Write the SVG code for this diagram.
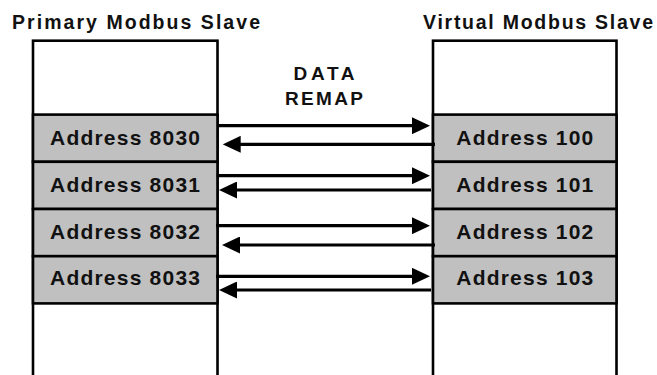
<svg xmlns="http://www.w3.org/2000/svg" width="657" height="375" viewBox="0 0 657 375">
  <style>
    .col { fill: #ffffff; stroke: #000000; stroke-width: 2.6; }
    .row { fill: #c0c0c0; stroke: #000000; stroke-width: 2.6; }
    .title { font-family: "Liberation Sans", Arial, sans-serif; font-weight: bold; font-size: 19.5px; fill: #111111; }
    .addr { font-family: "Liberation Sans", Arial, sans-serif; font-weight: bold; font-size: 21px; fill: #111111; text-anchor: middle; }
    .label { font-family: "Liberation Sans", Arial, sans-serif; font-weight: bold; font-size: 19px; fill: #111111; text-anchor: middle; }
    .link { fill: none; stroke: #000000; stroke-width: 3.2; }
  </style>
  <defs>
    <marker id="head" viewBox="0 0 18 17" refX="8" refY="8.5" markerWidth="18" markerHeight="17" markerUnits="userSpaceOnUse" orient="auto">
      <path d="M0,0 L18,8.5 L0,17 Z" fill="#000000"/>
    </marker>
  </defs>

  <rect width="657" height="375" fill="#ffffff"/>

  <!-- Primary slave register table -->
  <g id="primary-slave">
    <text class="title" x="12" y="29.3" textLength="248" lengthAdjust="spacing">Primary Modbus Slave</text>
    <rect class="col" x="33" y="40.7" width="184.5" height="345"/>
  </g>
  <g id="primary-8030">
    <rect class="row" x="33" y="114.6" width="184.5" height="47.2"/>
    <text class="addr" x="125" y="145.3" textLength="150" lengthAdjust="spacing">Address 8030</text>
  </g>
  <g id="primary-8031">
    <rect class="row" x="33" y="161.8" width="184.5" height="47.2"/>
    <text class="addr" x="125" y="192.3" textLength="150" lengthAdjust="spacing">Address 8031</text>
  </g>
  <g id="primary-8032">
    <rect class="row" x="33" y="209" width="184.5" height="47.2"/>
    <text class="addr" x="125" y="238.8" textLength="150" lengthAdjust="spacing">Address 8032</text>
  </g>
  <g id="primary-8033">
    <rect class="row" x="33" y="256.2" width="184.5" height="47.2"/>
    <text class="addr" x="125" y="285.3" textLength="150" lengthAdjust="spacing">Address 8033</text>
  </g>

  <!-- Virtual slave register table -->
  <g id="virtual-slave">
    <text class="title" x="423" y="29.3" textLength="230" lengthAdjust="spacing">Virtual Modbus Slave</text>
    <rect class="col" x="433" y="40.7" width="183.5" height="345"/>
  </g>
  <g id="virtual-100">
    <rect class="row" x="433" y="114.6" width="183.5" height="47.2"/>
    <text class="addr" x="524.8" y="145.3" textLength="137" lengthAdjust="spacing">Address 100</text>
  </g>
  <g id="virtual-101">
    <rect class="row" x="433" y="161.8" width="183.5" height="47.2"/>
    <text class="addr" x="524.8" y="192.3" textLength="137" lengthAdjust="spacing">Address 101</text>
  </g>
  <g id="virtual-102">
    <rect class="row" x="433" y="209" width="183.5" height="47.2"/>
    <text class="addr" x="524.8" y="238.8" textLength="137" lengthAdjust="spacing">Address 102</text>
  </g>
  <g id="virtual-103">
    <rect class="row" x="433" y="256.2" width="183.5" height="47.2"/>
    <text class="addr" x="524.8" y="285.3" textLength="137" lengthAdjust="spacing">Address 103</text>
  </g>

  <!-- Remap caption -->
  <g id="remap-label">
    <text class="label" x="324" y="80" textLength="61" lengthAdjust="spacing">DATA</text>
    <text class="label" x="324" y="105" textLength="78" lengthAdjust="spacing">REMAP</text>
  </g>

  <!-- Remap connectors: forward and return for each register pair -->
  <g id="connectors">
    <path class="link" d="M218,125.7 H420" marker-end="url(#head)"/>
    <path class="link" d="M435,144.3 H232.7" marker-end="url(#head)"/>
    <path class="link" d="M216.7,175.7 H420" marker-end="url(#head)"/>
    <path class="link" d="M431,190 H229" marker-end="url(#head)"/>
    <path class="link" d="M216,225.7 H420" marker-end="url(#head)"/>
    <path class="link" d="M435,245 H232" marker-end="url(#head)"/>
    <path class="link" d="M216,276.3 H420" marker-end="url(#head)"/>
    <path class="link" d="M431,290 H229" marker-end="url(#head)"/>
  </g>
</svg>
